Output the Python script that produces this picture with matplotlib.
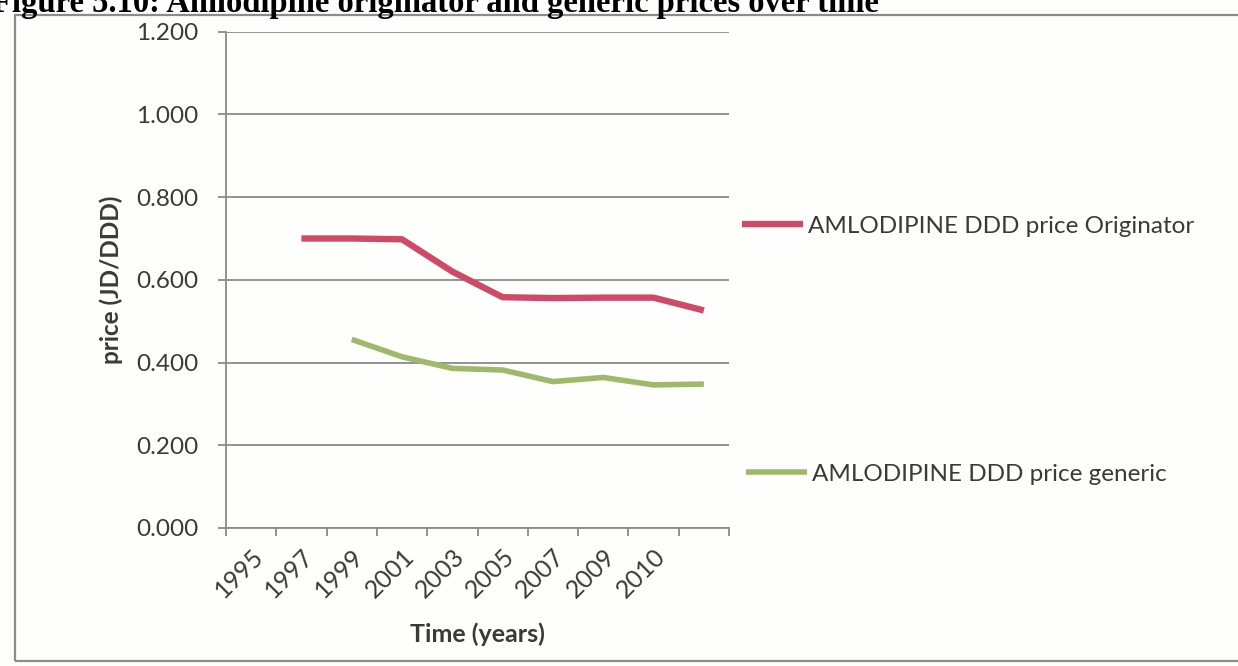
import matplotlib
matplotlib.use("Agg")
import matplotlib.pyplot as plt
from matplotlib.patches import Rectangle
from matplotlib.ticker import FixedLocator, FuncFormatter
import numpy as np

# price per DDD (JD), one value per year category
years = ["1995", "1997", "1999", "2001", "2003", "2005", "2007", "2009", "2010", ""]
originator = [np.nan, 0.700, 0.700, 0.698, 0.620, 0.558, 0.556, 0.557, 0.557, 0.526]
generic = [np.nan, np.nan, 0.456, 0.414, 0.386, 0.382, 0.354, 0.364, 0.346, 0.348]
series_names = ["AMLODIPINE DDD price Originator", "AMLODIPINE DDD price generic"]
title = "Figure 5.10: Amlodipine originator and generic prices over time"

plt.rcParams["font.family"] = ["Lato", "DejaVu Sans"]
txt = "#3a3a3a"
grid_c = "#8a8a8a"
red = "#cf4a66"
green = "#9fb86a"

fig = plt.figure(figsize=(12.38, 6.66), dpi=100, facecolor="#fefefc")
W, H = 1238, 666

# page caption, clipped by the top edge
fig.text(-8 / W, 1 - 12 / H, title, family="Liberation Serif", weight="bold",
         fontsize=23.5, color="black", ha="left", va="baseline")

# outer chart frame
fig.patches.append(Rectangle((15 / W, 1 - 661 / H), 1.1, (661 - 15) / H,
                             transform=fig.transFigure, fill=False,
                             edgecolor="#8c8c8c", lw=1.6))

ax = fig.add_axes([226 / W, 1 - 528 / H, (729 - 226) / W, (528 - 31.7) / H])
ax.set_facecolor("none")
x = np.arange(len(years))
l1, = ax.plot(x, originator, color=red, lw=4.6, solid_capstyle="butt",
              solid_joinstyle="round")
l2, = ax.plot(x, generic, color=green, lw=4.0, solid_capstyle="butt",
              solid_joinstyle="round")

ax.set_xlim(-0.5, len(years) - 0.5)
ax.set_ylim(0, 1.2)
ax.yaxis.set_major_locator(FixedLocator(np.arange(0, 1.21, 0.2)))
ax.yaxis.set_major_formatter(FuncFormatter(lambda v, p: f"{v:.3f}"))
ax.grid(axis="y", color=grid_c, lw=1.3)
ax.set_axisbelow(True)

ax.set_xticks(x)
ax.set_xticklabels(years, rotation=45, ha="right", rotation_mode="anchor")
ax.set_xticks(np.arange(-0.5, len(years)), minor=True)
ax.tick_params(axis="x", which="major", length=0, pad=12, labelsize=18,
               labelcolor=txt)
ax.tick_params(axis="x", which="minor", length=6, width=1.3, color=grid_c)
ax.tick_params(axis="y", length=6, width=1.3, color=grid_c, labelsize=17.5,
               labelcolor=txt, pad=14)

for s in ["top", "right"]:
    ax.spines[s].set_visible(False)
for s in ["left", "bottom"]:
    ax.spines[s].set_color(grid_c)
    ax.spines[s].set_linewidth(1.3)

ax.set_ylabel("price (JD/DDD)", fontsize=17.5, weight="bold", color=txt)
ax.set_xlabel("Time (years)", fontsize=18, weight="bold", color=txt)
ax.yaxis.set_label_coords(-0.204, 0.5)
ax.xaxis.set_label_coords(0.5, -0.19)

# legend entries on the right, spaced apart vertically
ax.legend([l1], [series_names[0]], loc="center left",
          bbox_to_anchor=(742 / W, 1 - 226 / H), bbox_transform=fig.transFigure,
          frameon=False, fontsize=17.5, handlelength=2.5, handletextpad=0.2,
          labelcolor=txt, borderaxespad=0, borderpad=0)
ax.add_artist(ax.get_legend())
plt.legend([l2], [series_names[1]], loc="center left",
           bbox_to_anchor=(746 / W, 1 - 474 / H),
           bbox_transform=fig.transFigure, frameon=False, fontsize=17.5,
           handlelength=2.5, handletextpad=0.2, labelcolor=txt,
           borderaxespad=0, borderpad=0)

fig.savefig("out.png", dpi=100, facecolor=fig.get_facecolor())
